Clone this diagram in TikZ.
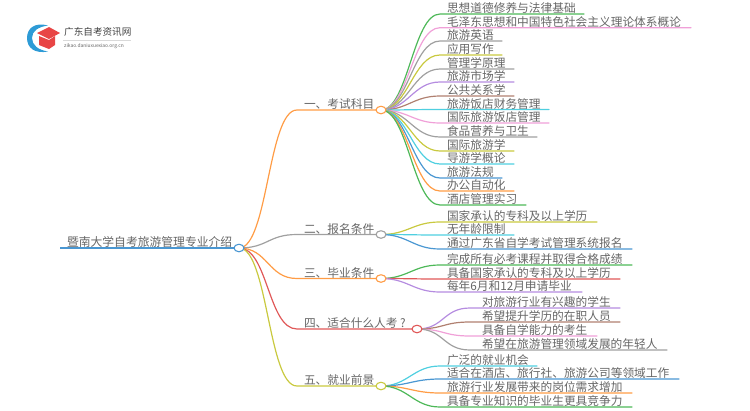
\documentclass[tikz,border=0pt]{standalone}
\usepackage{fontspec}
\setmainfont{Noto Sans CJK SC}
\usetikzlibrary{backgrounds,shapes.geometric}
\definecolor{cgreen}{HTML}{4DB858}
\definecolor{cpink}{HTML}{F0A0D8}
\definecolor{cgray}{HTML}{A0A0A0}
\definecolor{cyellow}{HTML}{C9C93F}
\definecolor{cpurple}{HTML}{B58CE0}
\definecolor{cbrown}{HTML}{B08070}
\definecolor{ccyan}{HTML}{4FCFE0}
\definecolor{cblue}{HTML}{4A97D2}
\definecolor{corange}{HTML}{FF9C45}
\definecolor{cred}{HTML}{E05858}
\definecolor{ctext}{HTML}{666666}
\definecolor{clogo}{HTML}{E84545}
\definecolor{cring}{HTML}{2E9BD6}
\tikzset{
  lbl/.style={anchor=base west,inner sep=0pt,outer sep=0pt,text=ctext,font=\fontsize{11.7}{12}\selectfont},
  hub/.style={ellipse,draw=#1,fill=white,line width=1.1pt,minimum width=10pt,minimum height=7.5pt,inner sep=0pt},
  wire/.style={line width=1.2pt,line cap=round},
}
\newcommand{\leafgap}{7}
% \leaf{hub}{name}{textx}{liney}{endx}{colour}{text}
\newcommand{\leaf}[7]{%
  \coordinate (#2s) at (#3-\leafgap,#4);
  \coordinate (#2e) at (#5,#4);
  \node[lbl] (#2) at (#3,#4-1.5) {#7};
  \draw[wire,#6] (#1.center) .. controls ([xshift=27]#1.center) and ([xshift=-27]#2s) .. (#2s) -- (#2e);
}
% \branch{name}{y}{colour}{text}{hubx}
\newcommand{\branch}[5]{%
  \coordinate (#1s) at (297,#2);
  \node[hub=#3] (#1) at (#5,#2) {};
  \node[lbl] (#1t) at (304,#2-1.5) {#4};
  \begin{scope}[on background layer]
  \draw[wire,#3] (root.center) .. controls (268,248) and (268,#2) .. (#1s) -- (#1.center);
  \end{scope}
}
\begin{document}
\begin{tikzpicture}[x=1pt,y=-1pt]
\useasboundingbox (0,0) rectangle (750,410);
% logo
\fill[cring] (48,25.5) .. controls (35,22) and (27,28) .. (27,38) .. controls (27,48) and (35,54) .. (48,51.5) .. controls (38,50) and (32,45) .. (32,38) .. controls (32,31) and (38,27) .. (48,25.5) -- cycle;
\fill[clogo] (39,36) -- (39,45) -- (49,49) -- (55,45) -- (55,36) -- (49,40) -- cycle;
\fill[clogo] (37,33) -- (49,27) -- (60,33) -- (49,39) -- cycle;
\node[anchor=west,inner sep=0pt,text=black!75,font=\fontsize{9.6}{10}\selectfont] (logot) at (64,31.5) {广东自考资讯网};
\node[anchor=west,inner sep=0pt,text=black!60,font=\fontsize{4.9}{5}\selectfont] (logos) at (64,46.5) {zikao.daniuxuexiao.org.cn};
\coordinate (logoa) at (63,40);
\coordinate (logob) at (131,40);
\draw[black!15,line width=.5pt] (logoa) -- (logob);
% root
\coordinate (roots) at (60,248);
\node[hub=cblue] (root) at (239,248) {};
\node[lbl,font=\fontsize{11.8}{12}\selectfont] (roott) at (67,246.5) {暨南大学自考旅游管理专业介绍};
\begin{scope}[on background layer]
\draw[line width=1.5pt,cblue] (roots) -- (root.center);
\end{scope}
% branches
\branch{a}{110}{corange}{一、考试科目}{381}
\branch{b}{234.5}{cgray}{二、报名条件}{381}
\branch{c}{278.5}{corange}{三、毕业条件}{381}
\branch{d}{329}{cred}{四、适合什么人考 ?}{417}
\branch{e}{386}{cyellow}{五、就业前景}{381}
% leaves
\begin{scope}[on background layer]
\leaf{a}{a1}{447}{14}{584}{cgreen}{思想道德修养与法律基础}
\leaf{a}{a2}{447}{27.7}{691}{cpink}{毛泽东思想和中国特色社会主义理论体系概论}
\leaf{a}{a3}{447}{41}{502}{cgray}{旅游英语}
\leaf{a}{a4}{447}{55}{502}{cyellow}{应用写作}
\leaf{a}{a5}{447}{69}{514}{cgray}{管理学原理}
\leaf{a}{a6}{447}{82}{514}{cpurple}{旅游市场学}
\leaf{a}{a7}{447}{96}{514}{cbrown}{公共关系学}
\leaf{a}{a8}{447}{109.5}{549}{ccyan}{旅游饭店财务管理}
\leaf{a}{a9}{447}{123}{549}{cpink}{国际旅游饭店管理}
\leaf{a}{a10}{447}{137}{537}{cgray}{食品营养与卫生}
\leaf{a}{a11}{447}{151}{514}{cyellow}{国际旅游学}
\leaf{a}{a12}{447}{164}{514}{ccyan}{导游学概论}
\leaf{a}{a13}{447}{178}{502}{cblue}{旅游法规}
\leaf{a}{a14}{447}{191}{514}{corange}{办公自动化}
\leaf{a}{a15}{447}{205}{526}{cgreen}{酒店管理实习}
\leaf{b}{b1}{447}{222}{597}{cyellow}{国家承认的专科及以上学历}
\leaf{b}{b2}{447}{235}{514}{ccyan}{无年龄限制}
\leaf{b}{b3}{447}{249}{632}{cblue}{通过广东省自学考试管理系统报名}
\leaf{c}{c1}{447}{265}{632}{cgreen}{完成所有必考课程并取得合格成绩}
\leaf{c}{c2}{447}{279}{620}{cred}{具备国家承认的专科及以上学历}
\leaf{c}{c3}{447}{292}{582}{cpurple}{每年6月和12月申请毕业}
\renewcommand{\leafgap}{12}
\leaf{d}{d1}{482}{308}{620}{cpurple}{对旅游行业有兴趣的学生}
\leaf{d}{d2}{482}{322}{620}{cbrown}{希望提升学历的在职人员}
\leaf{d}{d3}{482}{336}{597}{cpink}{具备自学能力的考生}
\leaf{d}{d4}{482}{350}{667}{cgray}{希望在旅游管理领域发展的年轻人}
\renewcommand{\leafgap}{7}
\leaf{e}{e1}{447}{366}{537}{ccyan}{广泛的就业机会}
\leaf{e}{e2}{447}{379}{679}{cblue}{适合在酒店、旅行社、旅游公司等领域工作}
\leaf{e}{e3}{447}{393}{632}{corange}{旅游行业发展带来的岗位需求增加}
\leaf{e}{e4}{447}{407}{632}{cgreen}{具备专业知识的毕业生更具竞争力}
\end{scope}
\end{tikzpicture}
\end{document}
